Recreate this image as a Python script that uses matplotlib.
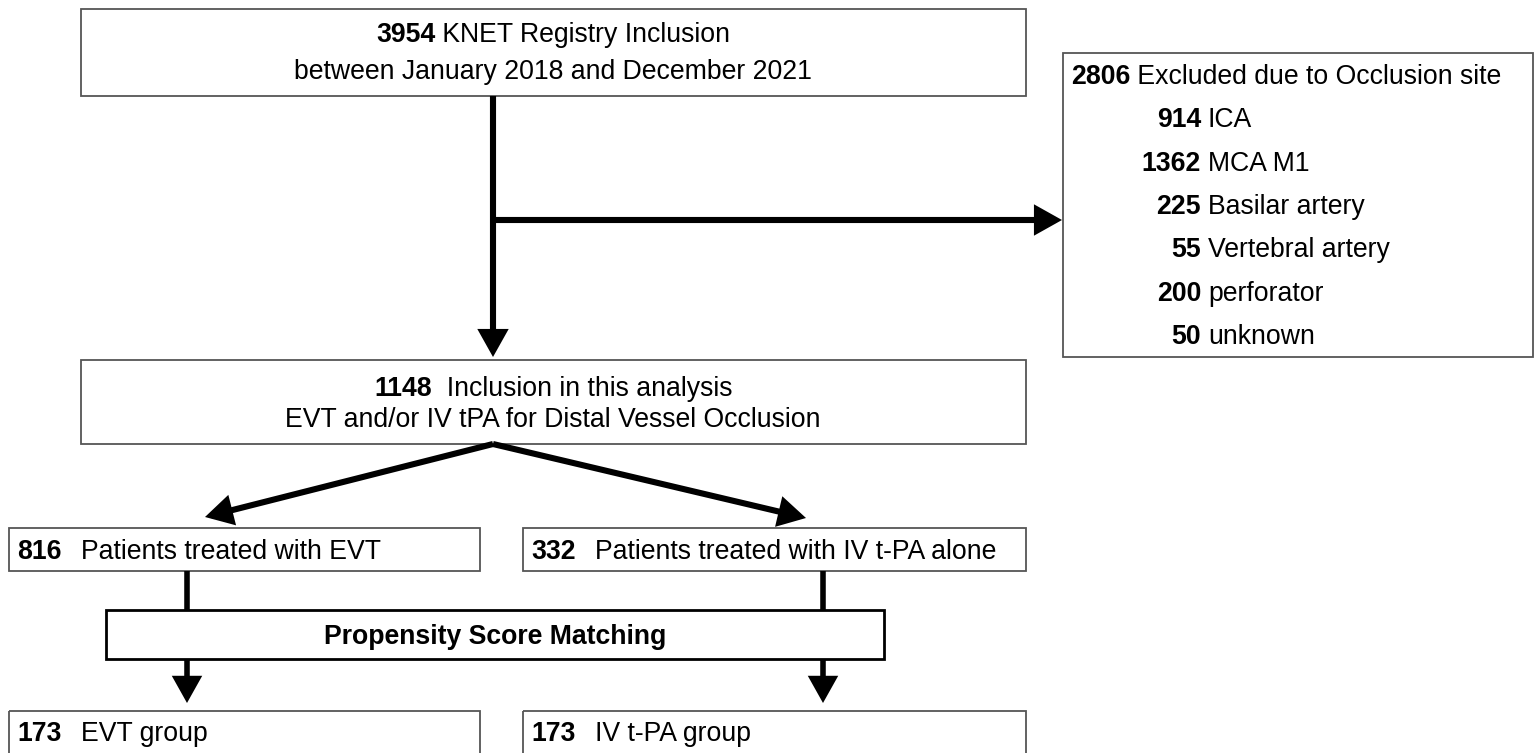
import matplotlib
matplotlib.use("Agg")
import matplotlib.pyplot as plt
from matplotlib.patches import Rectangle, FancyArrowPatch

# ---- data ----
top_n = "3954"
top_lines = ["KNET Registry Inclusion", "between January 2018 and December 2021"]
excl_n = "2806"
excl_label = "Excluded due to Occlusion site"
excl_sites = ["ICA", "MCA M1", "Basilar artery", "Vertebral artery", "perforator", "unknown"]
excl_counts = ["914", "1362", "225", "55", "200", "50"]
incl_n = "1148"
incl_lines = [" Inclusion in this analysis", "EVT and/or IV tPA for Distal Vessel Occlusion"]
group_counts = ["816", "332"]
group_labels = ["Patients treated with EVT", "Patients treated with IV t-PA alone"]
psm_label = "Propensity Score Matching"
matched_counts = ["173", "173"]
matched_labels = ["EVT group", "IV t-PA group"]

W, H = 1538, 753
FONT = "Liberation Sans"
FS = 19.2
plt.rcParams["font.family"] = [FONT, "DejaVu Sans"]

fig = plt.figure(figsize=(W / 100, H / 100), dpi=100)
ax = fig.add_axes([0, 0, 1, 1])
ax.set_xlim(0, W)
ax.set_ylim(H, 0)
ax.axis("off")
renderer = fig.canvas.get_renderer()

BOX_EC = "#555555"


def box(x0, y0, x1, y1, ec=BOX_EC, lw=1.3):
    ax.add_patch(Rectangle((x0, y0), x1 - x0, y1 - y0, fill=False, ec=ec, lw=lw))


def width_of(s, weight="normal"):
    t = ax.text(0, 0, s, fontsize=FS, weight=weight)
    bb = t.get_window_extent(renderer)
    t.remove()
    return bb.width


def mixed(x, y, bold, regular, ha="left"):
    wb = width_of(bold, "bold")
    wr = width_of(regular)
    if ha == "center":
        x = x - (wb + wr) / 2
    ax.text(x, y, bold, fontsize=FS, weight="bold", va="baseline", ha="left")
    ax.text(x + wb, y, regular, fontsize=FS, va="baseline", ha="left")


def arrow(p0, p1, head=True, lw=4.4):
    style = "-|>,head_length=0.75,head_width=0.42" if head else "-"
    ax.add_patch(FancyArrowPatch(p0, p1, arrowstyle=style, mutation_scale=18,
                                 lw=lw, color="black", shrinkA=0, shrinkB=0,
                                 joinstyle="miter", capstyle="butt"))


# ---- top box ----
box(81, 9, 1026, 96)
mixed(553, 42, top_n, " " + top_lines[0], ha="center")
ax.text(553, 79, top_lines[1], fontsize=FS, ha="center", va="baseline")

# ---- exclusion box ----
box(1063, 53, 1533, 357)
mixed(1071, 84, excl_n, " " + excl_label)
for i, (c, s) in enumerate(zip(excl_counts, excl_sites)):
    yb = 84 + 43.3 * (i + 1)
    ax.text(1201, yb, c, fontsize=FS, weight="bold", ha="right", va="baseline")
    ax.text(1208, yb, s, fontsize=FS, ha="left", va="baseline")

# ---- inclusion box ----
box(81, 360, 1026, 444)
mixed(553, 396, incl_n, " " + incl_lines[0], ha="center")
ax.text(553, 427, incl_lines[1], fontsize=FS, ha="center", va="baseline")

# ---- group boxes ----
gx = [(9, 480), (523, 1026)]
for (x0, x1), c, s in zip(gx, group_counts, group_labels):
    box(x0, 528, x1, 571)
    ax.text(x0 + 8, 559, c, fontsize=FS, weight="bold", va="baseline")
    ax.text(x0 + 72, 559, s, fontsize=FS, va="baseline")

# ---- PSM box ----
box(106, 610, 884, 659, ec="black", lw=2.0)
ax.text(495, 644, psm_label, fontsize=FS, weight="bold", ha="center", va="baseline")

# ---- matched boxes ----
for (x0, x1), c, s in zip(gx, matched_counts, matched_labels):
    box(x0, 711, x1, 760)
    ax.text(x0 + 8, 741, c, fontsize=FS, weight="bold", va="baseline")
    ax.text(x0 + 72, 741, s, fontsize=FS, va="baseline")

# ---- connectors ----
arrow((493, 96), (493, 357))
arrow((493, 220), (1062, 220))
arrow((493, 444), (205, 517))
arrow((493, 444), (806, 518))
for xv in (187, 823):
    arrow((xv, 571), (xv, 610), head=False, lw=4.0)
    arrow((xv, 659), (xv, 703), lw=4.0)

fig.savefig("out.png", dpi=100)
